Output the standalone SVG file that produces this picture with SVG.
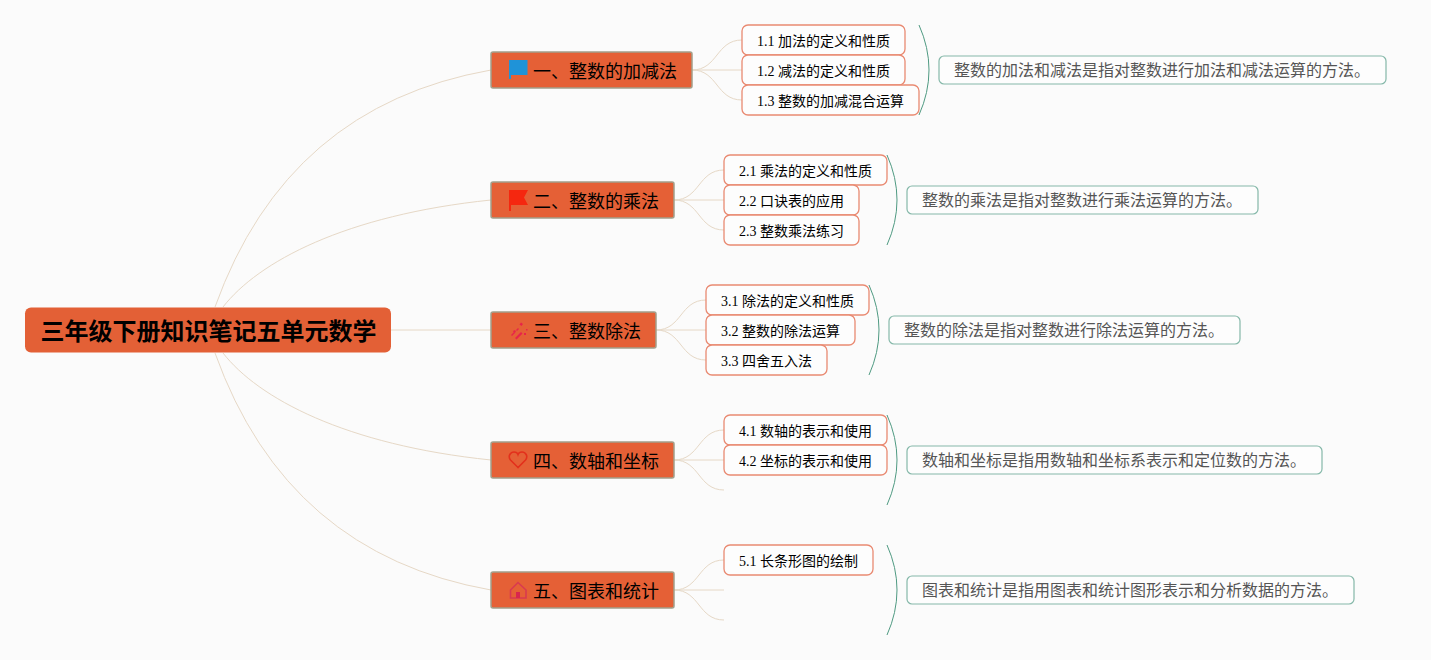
<svg xmlns="http://www.w3.org/2000/svg" width="1431" height="660" viewBox="0 0 1431 660">
<style>
text{font-family:"Liberation Serif","Noto Sans CJK SC",serif;fill:#000}
.root rect{fill:#e36036}
.root text{font-family:"Noto Sans CJK SC",sans-serif;font-size:24px;font-weight:700;text-anchor:middle}
.main rect{fill:#e56036;stroke:#a39f8a;stroke-width:1.500}
.main text{font-family:"Noto Sans CJK SC",sans-serif;font-size:18px}
.sub rect{fill:#fdfdfd;stroke:#e98a72;stroke-width:1.300}
.sub text{font-size:14px}
.sum rect{fill:#fdfdfd;stroke:#85b8a9;stroke-width:1.200}
.sum text{font-family:"Noto Sans CJK SC",sans-serif;font-size:16px;fill:#555}
.c path{fill:none;stroke:#e6d8c6;stroke-width:1}
.b path{fill:none;stroke:#4f9a82;stroke-width:1}
</style>
<rect width="1431" height="660" fill="#fbfbfb"/>
<g id="connectors" class="c">
<path d="M215 307Q287 106 491 70"/>
<path d="M223 307C258 262 345 215 491 200"/>
<path d="M391 330H491"/>
<path d="M223 353C258 398 345 445 491 460"/>
<path d="M215 353Q287 554 491 590"/>
<path d="M692 70C718 70 716 40 742 40"/><path d="M692 70H742"/><path d="M692 70C718 70 716 100 742 100"/>
<path d="M674 200C700 200 698 170 724 170"/><path d="M674 200H724"/><path d="M674 200C700 200 698 230 724 230"/>
<path d="M656 330C682 330 680 300 706 300"/><path d="M656 330H706"/><path d="M656 330C682 330 680 360 706 360"/>
<path d="M674 460C700 460 698 430 724 430"/><path d="M674 460H724"/><path d="M674 460C700 460 698 490 724 490"/>
<path d="M674 590C700 590 698 560 724 560"/><path d="M674 590H724"/><path d="M674 590C700 590 698 620 724 620"/>
</g>
<g id="braces" class="b">
<path d="M919 25Q939 70 919 115"/>
<path d="M887 155Q907 200 887 245"/>
<path d="M869 285Q889 330 869 375"/>
<path d="M887 415Q907 460 887 505"/>
<path d="M887 545Q907 590 887 635"/>
</g>
<g id="root" class="root"><rect x="25" y="307.500" width="366" height="45" rx="6"/><text x="208.500" y="340">三年级下册知识笔记五单元数学</text></g>

<g id="n1" class="main"><rect x="491" y="52" width="201" height="36" rx="2"/><path d="M509 60H527.500V75H511V79H509Z" fill="#1f93d8"/><text x="533" y="78">一、整数的加减法</text></g>
<g id="n2" class="main"><rect x="491" y="182" width="183" height="36" rx="2"/><path d="M509 190H528L524 197.500 528 205H511V211H509Z" fill="#f5270f"/><text x="533" y="208">二、整数的乘法</text></g>
<g id="n3" class="main"><rect x="491" y="312" width="165" height="36" rx="2"/><path d="M511 335l3-3 1 1-3 3ZM516 330l2-2 1 1-2 2ZM515 338l6-6 1.500 1.500-6 6ZM521 322.500l2 1.500-1.500 2-2-1.500ZM524 333h2v2h-2ZM526 329h1.500v1.500H526ZM513 331l2-1 1 2-2 1Z" fill="#e8234a"/><text x="533" y="338">三、整数除法</text></g>
<g id="n4" class="main"><rect x="491" y="442" width="183" height="36" rx="2"/><path d="M518 467.500L510.500 460C507.500 456 510.500 452 514 452 516 452 517.500 453 518 454.500 518.500 453 520 452 522 452 525.500 452 528.500 456 525.500 460Z" fill="none" stroke="#e3301c" stroke-width="1.600"/><text x="533" y="468">四、数轴和坐标</text></g>
<g id="n5" class="main"><rect x="491" y="572" width="183" height="36" rx="2"/><path d="M510.500 590L518 582.500 526 590V598H510.500Z" fill="none" stroke="#d93a50" stroke-width="1.600"/><rect x="516" y="592" width="4" height="6" style="fill:#d9264e;stroke:none"/><text x="533" y="598">五、图表和统计</text></g>

<g id="s11" class="sub"><rect x="742" y="25" width="163" height="30" rx="6"/><text x="757" y="46">1.1 加法的定义和性质</text></g>
<g id="s12" class="sub"><rect x="742" y="55" width="163" height="30" rx="6"/><text x="757" y="76">1.2 减法的定义和性质</text></g>
<g id="s13" class="sub"><rect x="742" y="85" width="177" height="30" rx="6"/><text x="757" y="106">1.3 整数的加减混合运算</text></g>
<g id="s21" class="sub"><rect x="724" y="155" width="163" height="30" rx="6"/><text x="739" y="176">2.1 乘法的定义和性质</text></g>
<g id="s22" class="sub"><rect x="724" y="185" width="135" height="30" rx="6"/><text x="739" y="206">2.2 口诀表的应用</text></g>
<g id="s23" class="sub"><rect x="724" y="215" width="135" height="30" rx="6"/><text x="739" y="236">2.3 整数乘法练习</text></g>
<g id="s31" class="sub"><rect x="706" y="285" width="163" height="30" rx="6"/><text x="721" y="306">3.1 除法的定义和性质</text></g>
<g id="s32" class="sub"><rect x="706" y="315" width="149" height="30" rx="6"/><text x="721" y="336">3.2 整数的除法运算</text></g>
<g id="s33" class="sub"><rect x="706" y="345" width="121" height="30" rx="6"/><text x="721" y="366">3.3 四舍五入法</text></g>
<g id="s41" class="sub"><rect x="724" y="415" width="163" height="30" rx="6"/><text x="739" y="436">4.1 数轴的表示和使用</text></g>
<g id="s42" class="sub"><rect x="724" y="445" width="163" height="30" rx="6"/><text x="739" y="466">4.2 坐标的表示和使用</text></g>
<g id="s51" class="sub"><rect x="724" y="545" width="149" height="30" rx="6"/><text x="739" y="566">5.1 长条形图的绘制</text></g>

<g id="d1" class="sum"><rect x="939" y="56" width="447" height="28" rx="5"/><text x="954" y="76">整数的加法和减法是指对整数进行加法和减法运算的方法。</text></g>
<g id="d2" class="sum"><rect x="907" y="186" width="351" height="28" rx="5"/><text x="922" y="206">整数的乘法是指对整数进行乘法运算的方法。</text></g>
<g id="d3" class="sum"><rect x="889" y="316" width="351" height="28" rx="5"/><text x="904" y="336">整数的除法是指对整数进行除法运算的方法。</text></g>
<g id="d4" class="sum"><rect x="907" y="446" width="415" height="28" rx="5"/><text x="922" y="466">数轴和坐标是指用数轴和坐标系表示和定位数的方法。</text></g>
<g id="d5" class="sum"><rect x="907" y="576" width="447" height="28" rx="5"/><text x="922" y="596">图表和统计是指用图表和统计图形表示和分析数据的方法。</text></g>
</svg>
